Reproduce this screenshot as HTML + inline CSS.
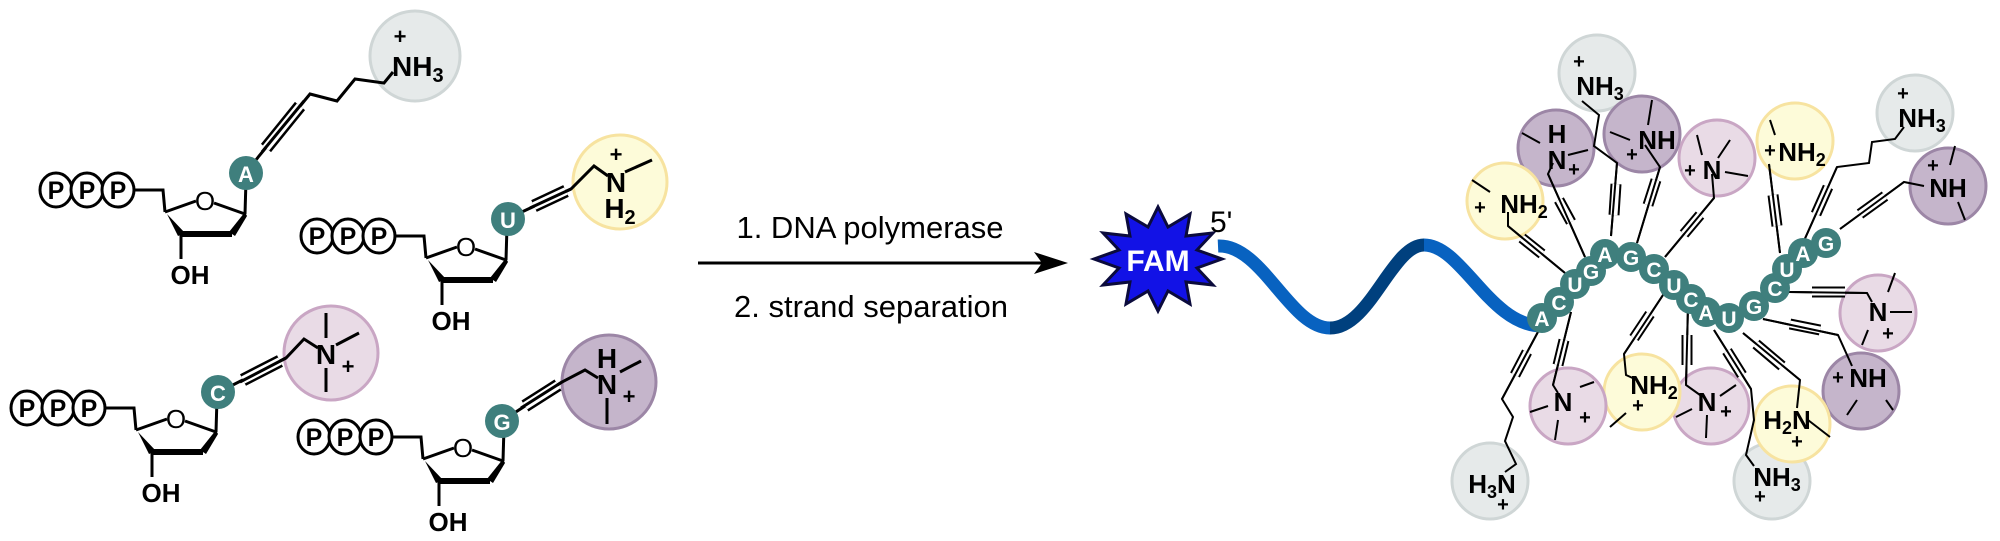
<!DOCTYPE html>
<html><head><meta charset="utf-8"><style>
html,body{margin:0;padding:0;background:#fff;}
svg{display:block;}
text{font-family:"Liberation Sans Narrow","Liberation Sans",sans-serif;}
</style></head><body>
<svg width="2000" height="541" viewBox="0 0 2000 541" xmlns="http://www.w3.org/2000/svg">
<defs>
<g id="core">
  <g fill="none" stroke="#000" stroke-width="3">
    <polyline points="134,190 163,190 165,212"/>
    <line x1="165" y1="212" x2="196" y2="201"/>
    <line x1="214" y1="203" x2="245" y2="214"/>
    <line x1="245" y1="214" x2="246" y2="180"/>
    <line x1="181" y1="233" x2="181" y2="259"/>
  </g>
  <polygon points="245,212 247,216 235,236 229,232" fill="#000"/>
  <line x1="232" y1="234" x2="181" y2="234" stroke="#000" stroke-width="6"/>
  <polygon points="165,210 167,214 185,233 178,236" fill="#000"/>
  <text x="205" y="210" font-size="26" text-anchor="middle">O</text>
  <text x="190" y="284" font-size="26" text-anchor="middle" font-weight="bold">OH</text>
  <g fill="#fff" stroke="#000" stroke-width="3">
    <ellipse cx="56" cy="190" rx="16" ry="17"/>
    <ellipse cx="87" cy="190" rx="16" ry="17"/>
    <ellipse cx="118" cy="190" rx="16" ry="17"/>
  </g>
  <g font-size="25" font-weight="bold" text-anchor="middle">
    <text x="56" y="199">P</text><text x="87" y="199">P</text><text x="118" y="199">P</text>
  </g>
</g>
</defs>

<!-- LEFT: molecule 1 (A) -->
<circle cx="415" cy="56" r="45" fill="#e6eaea" stroke="#cfd6d6" stroke-width="3"/>
<use href="#core"/>
<g fill="none" stroke="#000" stroke-width="3">
  <polyline points="246,173 259,156 310,94 337,101 355,79 384,83 393,72"/>
</g>
<line x1="266" y1="148" x2="300" y2="106" stroke="#000" stroke-width="13"/>
<line x1="266" y1="148" x2="300" y2="106" stroke="#fff" stroke-width="8"/>
<line x1="262" y1="152" x2="304" y2="101" stroke="#000" stroke-width="3"/>
<circle cx="246" cy="173" r="17" fill="#3f7f7d"/>
<text x="246" y="182" font-size="22" font-weight="bold" fill="#fff" text-anchor="middle">A</text>
<text x="400" y="44" font-size="22" font-weight="bold" text-anchor="middle">+</text>
<text x="392" y="76" font-size="28" font-weight="bold">NH<tspan font-size="20" dy="6">3</tspan></text>

<!-- molecule 2 (U) -->
<circle cx="620" cy="182" r="47" fill="#fdfbd9" stroke="#f7e3a0" stroke-width="3"/>
<g transform="translate(261,46)"><use href="#core"/></g>
<g fill="none" stroke="#000" stroke-width="3">
  <polyline points="509,218 571,189 594,166 608,176"/>
  <line x1="625" y1="172" x2="652" y2="160"/>
</g>
<line x1="534" y1="206" x2="566" y2="191" stroke="#000" stroke-width="13"/>
<line x1="534" y1="206" x2="566" y2="191" stroke="#fff" stroke-width="8"/>
<line x1="530" y1="208" x2="571" y2="189" stroke="#000" stroke-width="3"/>
<circle cx="508" cy="219" r="17" fill="#3f7f7d"/>
<text x="508" y="228" font-size="22" font-weight="bold" fill="#fff" text-anchor="middle">U</text>
<text x="616" y="162" font-size="22" font-weight="bold" text-anchor="middle">+</text>
<text x="616" y="192" font-size="28" font-weight="bold" text-anchor="middle">N</text>
<text x="620" y="218" font-size="28" font-weight="bold" text-anchor="middle">H<tspan font-size="20" dy="6">2</tspan></text>

<!-- molecule 3 (C) -->
<circle cx="331" cy="353" r="47" fill="#e9dbe6" stroke="#c9a6c4" stroke-width="3"/>
<g transform="translate(-29,218)"><use href="#core"/></g>
<g fill="none" stroke="#000" stroke-width="3">
  <polyline points="219,392 286,358 304,339 318,348"/>
  <line x1="326" y1="313" x2="326" y2="338"/>
  <line x1="336" y1="345" x2="359" y2="333"/>
  <line x1="326" y1="368" x2="326" y2="392"/>
</g>
<line x1="243" y1="380" x2="280" y2="361" stroke="#000" stroke-width="13"/>
<line x1="243" y1="380" x2="280" y2="361" stroke="#fff" stroke-width="8"/>
<line x1="240" y1="382" x2="286" y2="358" stroke="#000" stroke-width="3"/>
<circle cx="218" cy="392" r="17" fill="#3f7f7d"/>
<text x="218" y="401" font-size="22" font-weight="bold" fill="#fff" text-anchor="middle">C</text>
<text x="326" y="364" font-size="28" font-weight="bold" text-anchor="middle">N</text>
<text x="348" y="374" font-size="22" font-weight="bold" text-anchor="middle">+</text>

<!-- molecule 4 (G) -->
<circle cx="609" cy="382" r="47" fill="#c5b5cb" stroke="#9c86a6" stroke-width="3"/>
<g transform="translate(258,247)"><use href="#core"/></g>
<g fill="none" stroke="#000" stroke-width="3">
  <polyline points="502,421 562,382 585,370 598,378"/>
  <line x1="620" y1="372" x2="641" y2="361"/>
  <line x1="607" y1="398" x2="607" y2="424"/>
</g>
<line x1="525" y1="406" x2="558" y2="385" stroke="#000" stroke-width="13"/>
<line x1="525" y1="406" x2="558" y2="385" stroke="#fff" stroke-width="8"/>
<line x1="521" y1="408" x2="562" y2="382" stroke="#000" stroke-width="3"/>
<circle cx="502" cy="421" r="17" fill="#3f7f7d"/>
<text x="502" y="430" font-size="22" font-weight="bold" fill="#fff" text-anchor="middle">G</text>
<text x="607" y="368" font-size="28" font-weight="bold" text-anchor="middle">H</text>
<text x="607" y="394" font-size="28" font-weight="bold" text-anchor="middle">N</text>
<text x="629" y="404" font-size="22" font-weight="bold" text-anchor="middle">+</text>

<!-- MIDDLE: arrow -->
<text x="870" y="238" font-size="31" text-anchor="middle" font-family="Liberation Sans, sans-serif">1. DNA polymerase</text>
<text x="871" y="317" font-size="31" text-anchor="middle" font-family="Liberation Sans, sans-serif">2. strand separation</text>
<line x1="698" y1="263" x2="1045" y2="263" stroke="#000" stroke-width="3"/>
<polygon points="1068,263 1034,252 1042,263 1034,274" fill="#000"/>

<!-- FAM star -->
<polygon points="1222,259 1197,268 1213,285 1186,282 1190,304 1168,291 1158,311 1148,291 1126,304 1130,282 1103,285 1119,268 1094,259 1119,250 1103,233 1130,236 1126,214 1148,227 1158,207 1168,227 1190,214 1186,236 1213,233 1197,250" fill="#1212e6" stroke="#0b0b3c" stroke-width="3" stroke-linejoin="miter"/>
<text x="1158" y="271" font-size="30" font-weight="bold" fill="#fff" text-anchor="middle" font-family="Liberation Sans, sans-serif">FAM</text>
<text x="1210" y="232" font-size="30" font-family="Liberation Sans, sans-serif">5'</text>

<!-- ribbon -->
<g fill="none" stroke-width="13" stroke-linecap="butt">
  <path d="M1218,246 C1262,244 1290,328 1330,328" stroke="#0862c0"/>
  <path d="M1330,328 C1370,328 1392,245 1424,245" stroke="#00407e"/>
  <path d="M1424,245 C1462,245 1490,326 1542,326" stroke="#0862c0"/>
</g>

<!-- substituent circles -->
<g stroke-width="3">
  <circle cx="1597" cy="73" r="38" fill="#e6eaea" stroke="#cfd6d6"/>
  <circle cx="1915" cy="113" r="38" fill="#e6eaea" stroke="#cfd6d6"/>
  <circle cx="1948" cy="186" r="38" fill="#c5b5cb" stroke="#9c86a6"/>
  <circle cx="1795" cy="141" r="38" fill="#fdfbd9" stroke="#f7e3a0"/>
  <circle cx="1717" cy="158" r="38" fill="#e9dbe6" stroke="#c9a6c4"/>
  <circle cx="1642" cy="134" r="38" fill="#c5b5cb" stroke="#9c86a6"/>
  <circle cx="1556" cy="148" r="38" fill="#c5b5cb" stroke="#9c86a6"/>
  <circle cx="1505" cy="201" r="38" fill="#fdfbd9" stroke="#f7e3a0"/>
  <circle cx="1878" cy="313" r="38" fill="#e9dbe6" stroke="#c9a6c4"/>
  <circle cx="1861" cy="391" r="38" fill="#c5b5cb" stroke="#9c86a6"/>
  <circle cx="1772" cy="481" r="38" fill="#e6eaea" stroke="#cfd6d6"/>
  <circle cx="1792" cy="424" r="38" fill="#fdfbd9" stroke="#f7e3a0"/>
  <circle cx="1711" cy="406" r="38" fill="#e9dbe6" stroke="#c9a6c4"/>
  <circle cx="1642" cy="392" r="38" fill="#fdfbd9" stroke="#f7e3a0"/>
  <circle cx="1568" cy="406" r="38" fill="#e9dbe6" stroke="#c9a6c4"/>
  <circle cx="1490" cy="481" r="38" fill="#e6eaea" stroke="#cfd6d6"/>
</g>

<!-- linkers -->
<g fill="none" stroke="#000" stroke-width="2">
  <polyline points="1611,236 1617,163 1594,146 1599,115 1582,101"/>
  <polyline points="1585,257 1548,174 1553,163"/>
  <polyline points="1637,243 1660,167 1645,145"/>
  <polyline points="1565,273 1508,226 1508,212"/>
  <polyline points="1665,257 1714,198 1712,174"/>
  <polyline points="1780,253 1769,164"/>
  <polyline points="1803,243 1837,167 1869,163 1872,142 1895,139 1904,127"/>
  <polyline points="1840,229 1904,182 1924,186"/>
  <polyline points="1789,292 1867,293 1872,302"/>
  <polyline points="1763,319 1838,335 1852,366"/>
  <polyline points="1743,333 1800,380 1797,408"/>
  <polyline points="1714,330 1751,389 1754,420 1746,455 1754,466"/>
  <polyline points="1688,306 1686,385 1700,395"/>
  <polyline points="1665,292 1624,354 1626,375 1637,380"/>
  <polyline points="1571,312 1553,385 1558,393"/>
  <polyline points="1539,330 1502,399 1513,417 1505,441 1516,464 1505,472"/>
  <!-- methyls -->
  <line x1="1522" y1="133" x2="1540" y2="143"/><line x1="1568" y1="155" x2="1588" y2="150"/>
  <line x1="1652" y1="100" x2="1648" y2="125"/><line x1="1610" y1="132" x2="1630" y2="140"/>
  <line x1="1472" y1="180" x2="1490" y2="192"/>
  <line x1="1697" y1="135" x2="1702" y2="155"/><line x1="1730" y1="140" x2="1718" y2="158"/><line x1="1725" y1="172" x2="1748" y2="176"/>
  <line x1="1770" y1="120" x2="1775" y2="135"/>
  <line x1="1955" y1="146" x2="1950" y2="165"/><line x1="1958" y1="202" x2="1965" y2="220"/>
  <line x1="1895" y1="273" x2="1888" y2="292"/><line x1="1890" y1="312" x2="1912" y2="312"/><line x1="1868" y1="330" x2="1862" y2="345"/>
  <line x1="1857" y1="400" x2="1847" y2="415"/><line x1="1886" y1="400" x2="1893" y2="410"/>
  <line x1="1808" y1="420" x2="1830" y2="437"/>
  <line x1="1736" y1="385" x2="1720" y2="396"/><line x1="1676" y1="417" x2="1692" y2="409"/><line x1="1707" y1="415" x2="1706" y2="438"/>
  <line x1="1626" y1="413" x2="1610" y2="427"/>
  <line x1="1530" y1="412" x2="1548" y2="406"/><line x1="1580" y1="387" x2="1594" y2="382"/><line x1="1558" y1="420" x2="1555" y2="440"/>
</g>
<!-- triple bonds -->
<g fill="none" stroke-linecap="butt">
  <g stroke="#000" stroke-width="11">
    <line x1="1614" y1="215" x2="1616" y2="184"/><line x1="1571" y1="222" x2="1559" y2="200"/>
    <line x1="1648" y1="205" x2="1656" y2="180"/><line x1="1542" y1="254" x2="1522" y2="238"/>
    <line x1="1684" y1="234" x2="1700" y2="215"/><line x1="1777" y1="226" x2="1773" y2="195"/>
    <line x1="1816" y1="214" x2="1828" y2="187"/><line x1="1860" y1="214" x2="1885" y2="196"/>
    <line x1="1812" y1="292" x2="1845" y2="292"/><line x1="1790" y1="324" x2="1820" y2="330"/>
    <line x1="1756" y1="344" x2="1782" y2="366"/><line x1="1727" y1="351" x2="1742" y2="375"/>
    <line x1="1687" y1="335" x2="1687" y2="365"/><line x1="1650" y1="314" x2="1634" y2="338"/>
    <line x1="1564" y1="340" x2="1558" y2="365"/><line x1="1527" y1="352" x2="1515" y2="375"/>
  </g>
  <g stroke="#fff" stroke-width="7">
    <line x1="1614" y1="215" x2="1616" y2="184"/><line x1="1571" y1="222" x2="1559" y2="200"/>
    <line x1="1648" y1="205" x2="1656" y2="180"/><line x1="1542" y1="254" x2="1522" y2="238"/>
    <line x1="1684" y1="234" x2="1700" y2="215"/><line x1="1777" y1="226" x2="1773" y2="195"/>
    <line x1="1816" y1="214" x2="1828" y2="187"/><line x1="1860" y1="214" x2="1885" y2="196"/>
    <line x1="1812" y1="292" x2="1845" y2="292"/><line x1="1790" y1="324" x2="1820" y2="330"/>
    <line x1="1756" y1="344" x2="1782" y2="366"/><line x1="1727" y1="351" x2="1742" y2="375"/>
    <line x1="1687" y1="335" x2="1687" y2="365"/><line x1="1650" y1="314" x2="1634" y2="338"/>
    <line x1="1564" y1="340" x2="1558" y2="365"/><line x1="1527" y1="352" x2="1515" y2="375"/>
  </g>
  <g stroke="#000" stroke-width="2">
    <polyline points="1611,236 1617,163"/><polyline points="1585,257 1548,174"/>
    <polyline points="1637,243 1660,167"/><polyline points="1565,273 1508,226"/>
    <polyline points="1665,257 1714,198"/><polyline points="1780,253 1769,164"/>
    <polyline points="1803,243 1837,167"/><polyline points="1840,229 1904,182"/>
    <polyline points="1789,292 1867,293"/><polyline points="1763,319 1838,335"/>
    <polyline points="1743,333 1800,380"/><polyline points="1714,330 1751,389"/>
    <polyline points="1688,306 1686,385"/><polyline points="1665,292 1624,354"/>
    <polyline points="1571,312 1553,385"/><polyline points="1539,330 1502,399"/>
  </g>
</g>

<!-- base chain -->
<g fill="#3f7f7d">
  <circle cx="1542" cy="318" r="15"/><circle cx="1559" cy="302" r="15"/><circle cx="1575" cy="284" r="15"/>
  <circle cx="1591" cy="271" r="15"/><circle cx="1605" cy="254" r="15"/><circle cx="1631" cy="257" r="15"/>
  <circle cx="1654" cy="269" r="15"/><circle cx="1674" cy="285" r="15"/><circle cx="1691" cy="299" r="15"/>
  <circle cx="1706" cy="312" r="15"/><circle cx="1729" cy="318" r="15"/><circle cx="1754" cy="306" r="15"/>
  <circle cx="1775" cy="288" r="15"/><circle cx="1787" cy="269" r="15"/><circle cx="1803" cy="253" r="15"/>
  <circle cx="1826" cy="243" r="15"/>
</g>
<g fill="#fff" font-size="21" font-weight="bold" text-anchor="middle">
  <text x="1542" y="326">A</text><text x="1559" y="310">C</text><text x="1575" y="292">U</text>
  <text x="1591" y="279">G</text><text x="1605" y="262">A</text><text x="1631" y="265">G</text>
  <text x="1654" y="277">C</text><text x="1674" y="293">U</text><text x="1691" y="307">C</text>
  <text x="1706" y="320">A</text><text x="1729" y="326">U</text><text x="1754" y="314">G</text>
  <text x="1775" y="296">C</text><text x="1787" y="277">U</text><text x="1803" y="261">A</text>
  <text x="1826" y="251">G</text>
</g>

<!-- cluster labels -->
<g font-size="26" font-weight="bold" text-anchor="middle">
  <text x="1579" y="68" font-size="20">+</text><text x="1600" y="95">NH<tspan font-size="18" dy="5">3</tspan></text>
  <text x="1557" y="143">H</text><text x="1557" y="169">N</text><text x="1574" y="176" font-size="20">+</text>
  <text x="1657" y="149">NH</text><text x="1632" y="161" font-size="20">+</text>
  <text x="1480" y="214" font-size="20">+</text><text x="1524" y="213">NH<tspan font-size="18" dy="5">2</tspan></text>
  <text x="1690" y="177" font-size="20">+</text><text x="1712" y="179">N</text>
  <text x="1770" y="157" font-size="20">+</text><text x="1802" y="161">NH<tspan font-size="18" dy="5">2</tspan></text>
  <text x="1903" y="100" font-size="20">+</text><text x="1922" y="127">NH<tspan font-size="18" dy="5">3</tspan></text>
  <text x="1933" y="172" font-size="20">+</text><text x="1948" y="197">NH</text>
  <text x="1878" y="321">N</text><text x="1888" y="340" font-size="20">+</text>
  <text x="1838" y="384" font-size="20">+</text><text x="1868" y="387">NH</text>
  <text x="1787" y="429">H<tspan font-size="18" dy="5">2</tspan><tspan dy="-5">N</tspan></text><text x="1797" y="448" font-size="20">+</text>
  <text x="1777" y="486">NH<tspan font-size="18" dy="5">3</tspan></text><text x="1760" y="503" font-size="20">+</text>
  <text x="1707" y="411">N</text><text x="1726" y="418" font-size="20">+</text>
  <text x="1654" y="394">NH<tspan font-size="18" dy="5">2</tspan></text><text x="1638" y="412" font-size="20">+</text>
  <text x="1563" y="411">N</text><text x="1585" y="424" font-size="20">+</text>
  <text x="1492" y="493">H<tspan font-size="18" dy="5">3</tspan><tspan dy="-5">N</tspan></text><text x="1503" y="511" font-size="20">+</text>
</g>
</svg>
</body></html>
